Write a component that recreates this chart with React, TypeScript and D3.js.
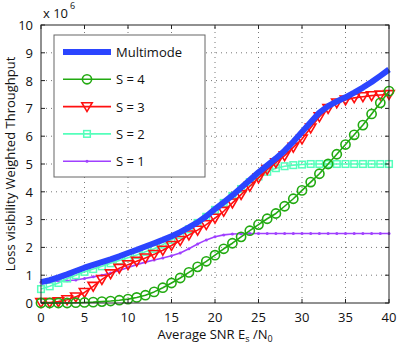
import React from "react";
import * as d3 from "d3";

// SNR in dB, one point per dB
const snr = d3.range(0, 41);

// throughput, in units of 10^6
const multimode = [
  0.75, 0.82, 0.92, 1.03, 1.15, 1.27, 1.37, 1.47, 1.57, 1.68,
  1.8, 1.91, 2.03, 2.15, 2.27, 2.4, 2.55, 2.72, 2.9, 3.12,
  3.38, 3.62, 3.87, 4.15, 4.42, 4.7, 4.95, 5.2, 5.48, 5.8,
  6.15, 6.5, 6.85, 7.08, 7.25, 7.4, 7.57, 7.75, 7.95, 8.17, 8.4,
];
const s4 = [
  0, 0, 0, 0, 0.01, 0.02, 0.03, 0.05, 0.07, 0.1,
  0.14, 0.2, 0.28, 0.4, 0.55, 0.72, 0.9, 1.1, 1.3, 1.5,
  1.72, 1.95, 2.15, 2.38, 2.6, 2.82, 3.03, 3.22, 3.48, 3.75,
  4.05, 4.35, 4.65, 5.0, 5.35, 5.7, 6.05, 6.4, 6.8, 7.2, 7.62,
];
const s3 = [
  0.02, 0.02, 0.05, 0.12, 0.22, 0.38, 0.6, 0.85, 1.05, 1.25,
  1.38, 1.5, 1.62, 1.75, 1.9, 2.07, 2.25, 2.45, 2.62, 2.82,
  3.05, 3.3, 3.6, 3.9, 4.2, 4.5, 4.8, 5.05, 5.3, 5.6,
  5.9, 6.3, 6.7, 7.0, 7.2, 7.3, 7.38, 7.42, 7.46, 7.48, 7.5,
];
const s2 = [
  0.5, 0.6, 0.72, 0.88, 1.0, 1.12, 1.22, 1.32, 1.43, 1.53,
  1.63, 1.73, 1.84, 1.95, 2.1, 2.27, 2.45, 2.65, 2.88, 3.1,
  3.35, 3.6, 3.85, 4.1, 4.35, 4.55, 4.72, 4.85, 4.92, 4.96,
  4.98, 5.0, 5.0, 5.0, 5.0, 5.0, 5.0, 5.0, 5.0, 5.0, 5.0,
];
const s1 = [
  0.75, 0.77, 0.79, 0.8, 0.83, 0.88, 0.94, 1.0, 1.08, 1.17,
  1.28, 1.38, 1.47, 1.55, 1.62, 1.7, 1.8, 1.95, 2.12, 2.27,
  2.38, 2.45, 2.48, 2.49, 2.5, 2.5, 2.5, 2.5, 2.5, 2.5,
  2.5, 2.5, 2.5, 2.5, 2.5, 2.5, 2.5, 2.5, 2.5, 2.5, 2.5,
];

const xTicks = [0, 5, 10, 15, 20, 25, 30, 35, 40];
const yTicks = [0, 1, 2, 3, 4, 5, 6, 7, 8, 9, 10];

const series = [
  { name: "Multimode", values: multimode, color: "#2b45ff", width: 6, marker: "none" },
  { name: "S = 4", values: s4, color: "#22aa11", width: 1.6, marker: "circle" },
  { name: "S = 3", values: s3, color: "#ff1010", width: 1.6, marker: "triangle" },
  { name: "S = 2", values: s2, color: "#55ffbb", width: 1.6, marker: "square" },
  { name: "S = 1", values: s1, color: "#a040ff", width: 1.6, marker: "dot" },
];

const W = 398;
const H = 348;
const m = { left: 41, right: 8, top: 25, bottom: 45 };
const font = "'Open Sans', 'Liberation Sans', sans-serif";

function Marker({ type, x, y, color }: { type: string; x: number; y: number; color: string }) {
  if (type === "circle")
    return <circle cx={x} cy={y} r={4.6} fill="none" stroke={color} strokeWidth={1.6} />;
  if (type === "triangle") {
    const s = 5.2;
    return (
      <path
        d={`M${x - s},${y - s * 0.75}L${x + s},${y - s * 0.75}L${x},${y + s * 0.95}Z`}
        fill="none"
        stroke={color}
        strokeWidth={1.6}
      />
    );
  }
  if (type === "square")
    return <rect x={x - 3.3} y={y - 3.3} width={6.6} height={6.6} fill="none" stroke={color} strokeWidth={1.5} />;
  if (type === "dot") return <circle cx={x} cy={y} r={1.5} fill={color} />;
  return null;
}

export default function App() {
  const x = d3.scaleLinear().domain([0, 40]).range([m.left, W - m.right - 1]);
  const y = d3.scaleLinear().domain([0, 10]).range([H - m.bottom, m.top]);
  const line = d3
    .line<number>()
    .x((_, i) => x(snr[i]))
    .y((d) => y(d));

  const x0 = x(0);
  const x1 = x(40);
  const y0 = y(0);
  const y1 = y(10);

  const legX = 54;
  const legY = 35;
  const legW = 151;
  const legH = 142;

  return (
    <svg width={W} height={H} style={{ position: "absolute", left: 0, top: 0, background: "#fff" }} fontFamily={font}>
      {/* grid */}
      {xTicks.slice(1, -1).map((t) => (
        <line key={"gx" + t} x1={x(t)} x2={x(t)} y1={y0} y2={y1} stroke="#777" strokeWidth={1} strokeDasharray="1,4" />
      ))}
      {yTicks.slice(1, -1).map((t) => (
        <line key={"gy" + t} x1={x0} x2={x1} y1={y(t)} y2={y(t)} stroke="#777" strokeWidth={1} strokeDasharray="1,4" />
      ))}

      {/* series */}
      {series
        .slice()
        .reverse()
        .map((s) => (
          <g key={s.name}>
            <path d={line(s.values) || ""} fill="none" stroke={s.color} strokeWidth={s.width} strokeLinejoin="round" />
            {s.values.map((v, i) => (
              <Marker key={i} type={s.marker} x={x(snr[i])} y={y(v)} color={s.color} />
            ))}
          </g>
        ))}

      {/* box and ticks */}
      <rect x={x0} y={y1} width={x1 - x0} height={y0 - y1} fill="none" stroke="#222" strokeWidth={1} />
      {xTicks.map((t) => (
        <g key={"tx" + t}>
          <line x1={x(t)} x2={x(t)} y1={y0} y2={y0 - 4} stroke="#222" />
          <line x1={x(t)} x2={x(t)} y1={y1} y2={y1 + 4} stroke="#222" />
          <text x={x(t)} y={y0 + 19} fontSize={13} textAnchor="middle" fill="#111">
            {t}
          </text>
        </g>
      ))}
      {yTicks.map((t) => (
        <g key={"ty" + t}>
          <line x1={x0} x2={x0 + 4} y1={y(t)} y2={y(t)} stroke="#222" />
          <line x1={x1} x2={x1 - 4} y1={y(t)} y2={y(t)} stroke="#222" />
          <text x={x0 - 8} y={y(t) + 5} fontSize={13} textAnchor="end" fill="#111">
            {t}
          </text>
        </g>
      ))}

      {/* exponent */}
      <text x={43} y={18} fontSize={13} fill="#111">
        x 10
      </text>
      <text x={70} y={9} fontSize={9} fill="#111">
        6
      </text>

      {/* axis labels */}
      <text x={215} y={339} fontSize={13} textAnchor="middle" fill="#111">
        Average SNR E<tspan fontSize={9} dy={3}>s</tspan>
        <tspan dy={-3}> /N</tspan>
        <tspan fontSize={9} dy={3}>0</tspan>
      </text>
      <text transform={`translate(15,${(y0 + y1) / 2}) rotate(-90)`} fontSize={13} textAnchor="middle" fill="#111">
        Loss visibility Weighted Throughput
      </text>

      {/* legend */}
      <rect x={legX} y={legY} width={legW} height={legH} fill="#fff" stroke="#666" strokeWidth={1} />
      {series.map((s, i) => {
        const ly = legY + 17 + i * 27.3;
        return (
          <g key={"l" + s.name}>
            <line x1={63} x2={111} y1={ly} y2={ly} stroke={s.color} strokeWidth={s.width} />
            <Marker type={s.marker} x={87} y={ly} color={s.color} />
            <text x={116} y={ly + 5} fontSize={13} fill="#111">
              {s.name}
            </text>
          </g>
        );
      })}
    </svg>
  );
}
